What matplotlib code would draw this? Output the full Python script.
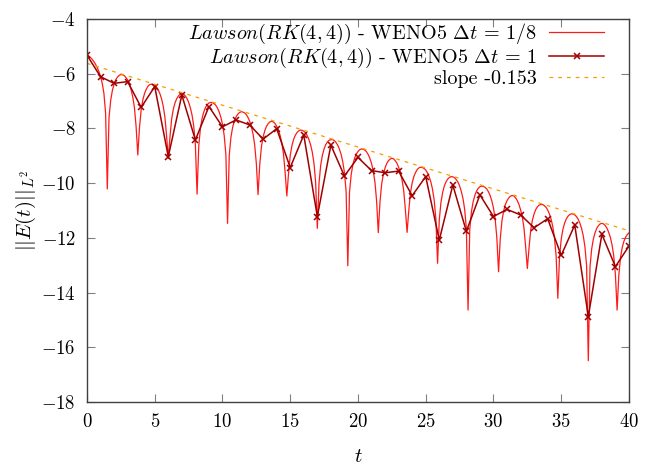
import numpy as np
import matplotlib
matplotlib.use("Agg")
import matplotlib.pyplot as plt

# Lawson(RK(4,4)) - WENO5, electric energy in log scale
t_coarse = list(range(0, 41))
E_coarse = [-5.32, -6.11, -6.35, -6.29, -7.23, -6.47, -9.03, -6.78, -8.42, -7.20,
            -7.94, -7.69, -7.87, -8.39, -8.01, -9.43, -8.24, -11.22, -8.61, -9.74,
            -9.06, -9.54, -9.62, -9.56, -10.46, -9.76, -12.08, -10.07, -11.76, -10.43,
            -11.22, -10.96, -11.16, -11.63, -11.30, -12.64, -11.53, -14.88, -11.87, -13.05,
            -12.30]

# dt = 1/8 run, one row per time unit
t_fine = np.linspace(0, 40, 321)
E_fine = [
    -5.32, -5.35, -5.40, -5.47, -5.55, -5.65, -5.77, -5.92,
    -6.10, -6.35, -6.72, -7.45, -10.21, -7.62, -6.97, -6.61,
    -6.38, -6.22, -6.12, -6.06, -6.03, -6.04, -6.07, -6.14,
    -6.23, -6.37, -6.57, -6.84, -7.23, -7.93, -8.97, -7.97,
    -7.31, -6.95, -6.72, -6.57, -6.46, -6.40, -6.38, -6.39,
    -6.42, -6.48, -6.58, -6.72, -6.91, -7.18, -7.58, -8.27,
    -9.10, -8.31, -7.65, -7.29, -7.06, -6.91, -6.81, -6.75,
    -6.72, -6.74, -6.81, -6.90, -7.04, -7.24, -7.50, -7.90,
    -8.60, -10.40, -8.64, -7.98, -7.62, -7.39, -7.23, -7.13,
    -7.07, -7.05, -7.06, -7.09, -7.15, -7.25, -7.39, -7.58,
    -7.85, -8.25, -8.94, -11.47, -8.98, -8.32, -7.96, -7.73,
    -7.58, -7.48, -7.42, -7.39, -7.40, -7.43, -7.49, -7.59,
    -7.73, -7.92, -8.19, -8.59, -9.29, -10.42, -9.33, -8.67,
    -8.31, -8.08, -7.92, -7.82, -7.76, -7.74, -7.76, -7.82,
    -7.92, -8.06, -8.25, -8.52, -8.92, -9.61, -10.47, -9.65,
    -8.99, -8.63, -8.40, -8.25, -8.15, -8.09, -8.06, -8.07,
    -8.10, -8.16, -8.26, -8.40, -8.59, -8.86, -9.26, -9.96,
    -11.65, -10.00, -9.34, -8.98, -8.75, -8.59, -8.49, -8.43,
    -8.41, -8.41, -8.44, -8.51, -8.61, -8.75, -8.94, -9.21,
    -9.61, -10.30, -13.02, -10.34, -9.68, -9.32, -9.09, -8.94,
    -8.84, -8.78, -8.75, -8.76, -8.79, -8.85, -8.95, -9.09,
    -9.28, -9.55, -9.95, -10.65, -11.81, -10.68, -10.03, -9.67,
    -9.44, -9.28, -9.18, -9.12, -9.09, -9.11, -9.18, -9.27,
    -9.42, -9.61, -9.88, -10.27, -10.97, -11.80, -11.01, -10.35,
    -9.99, -9.76, -9.61, -9.50, -9.44, -9.42, -9.43, -9.46,
    -9.52, -9.62, -9.76, -9.95, -10.22, -10.62, -11.31, -12.93,
    -11.35, -10.70, -10.34, -10.10, -9.95, -9.85, -9.79, -9.76,
    -9.77, -9.80, -9.87, -9.96, -10.10, -10.30, -10.56, -10.96,
    -11.66, -14.64, -11.70, -11.04, -10.68, -10.45, -10.29, -10.19,
    -10.13, -10.11, -10.12, -10.15, -10.21, -10.31, -10.45, -10.64,
    -10.91, -11.31, -12.00, -13.24, -12.04, -11.38, -11.02, -10.79,
    -10.64, -10.54, -10.48, -10.45, -10.47, -10.53, -10.63, -10.77,
    -10.97, -11.23, -11.63, -12.33, -13.12, -12.37, -11.71, -11.35,
    -11.12, -10.96, -10.86, -10.80, -10.78, -10.78, -10.82, -10.88,
    -10.98, -11.12, -11.31, -11.58, -11.98, -12.67, -14.21, -12.71,
    -12.05, -11.69, -11.46, -11.31, -11.21, -11.15, -11.12, -11.13,
    -11.16, -11.22, -11.32, -11.46, -11.65, -11.92, -12.32, -13.02,
    -16.49, -13.06, -12.40, -12.04, -11.81, -11.65, -11.55, -11.49,
    -11.47, -11.49, -11.55, -11.65, -11.79, -11.98, -12.25, -12.65,
    -13.34, -14.64, -13.38, -12.72, -12.36, -12.13, -11.98, -11.88,
    -11.82,
]

# fitted slope line endpoints
slope_t = [0, 40]
slope_E = [-5.62, -11.74]

plt.rcParams['font.family'] = 'serif'
plt.rcParams['font.serif'] = ['cmr10']
plt.rcParams['mathtext.fontset'] = 'cm'
plt.rcParams['axes.formatter.use_mathtext'] = True
plt.rcParams['axes.unicode_minus'] = True

fig = plt.figure(figsize=(6.65, 4.67), dpi=100)
ax = fig.add_axes([0.1308, 0.1392, 0.8150, 0.8201])

ax.plot(t_fine, E_fine, color='#ff1a1a', lw=0.9,
        label=r'$Lawson(RK(4,4))$ - WENO5 $\Delta t\,=\,1/8$')
ax.plot(t_coarse, E_coarse, color='#a00000', lw=1.1, marker='x', ms=5, mew=1.1,
        label=r'$Lawson(RK(4,4))$ - WENO5 $\Delta t\,=\,1$')
ax.plot(slope_t, slope_E, color='#f0a000', lw=0.9, ls=(0, (3, 4)),
        label='slope -0.153')

ax.set_xlim(0, 40)
ax.set_ylim(-18, -4)
ax.set_xticks(range(0, 41, 5))
ax.set_yticks(range(-18, -3, 2))
ax.tick_params(direction='in', top=True, right=True, length=6, width=0.8,
               color='#808080', labelsize=13.5, pad=8)
for s in ax.spines.values():
    s.set_color('#404040')
    s.set_linewidth(1.0)

ax.set_xlabel(r'$t$', fontsize=15, labelpad=12)
ax.set_ylabel(r'$||E(t)||_{L^2}$', fontsize=15, labelpad=2)

leg = ax.legend(loc='upper right', bbox_to_anchor=(0.908, 0.953),
                bbox_transform=fig.transFigure, markerfirst=False, frameon=False,
                fontsize=14.5, numpoints=1, handlelength=2.7, handletextpad=0.6,
                labelspacing=0.0, borderaxespad=0, borderpad=0)

plt.savefig('out.png', dpi=100)
plt.close()
